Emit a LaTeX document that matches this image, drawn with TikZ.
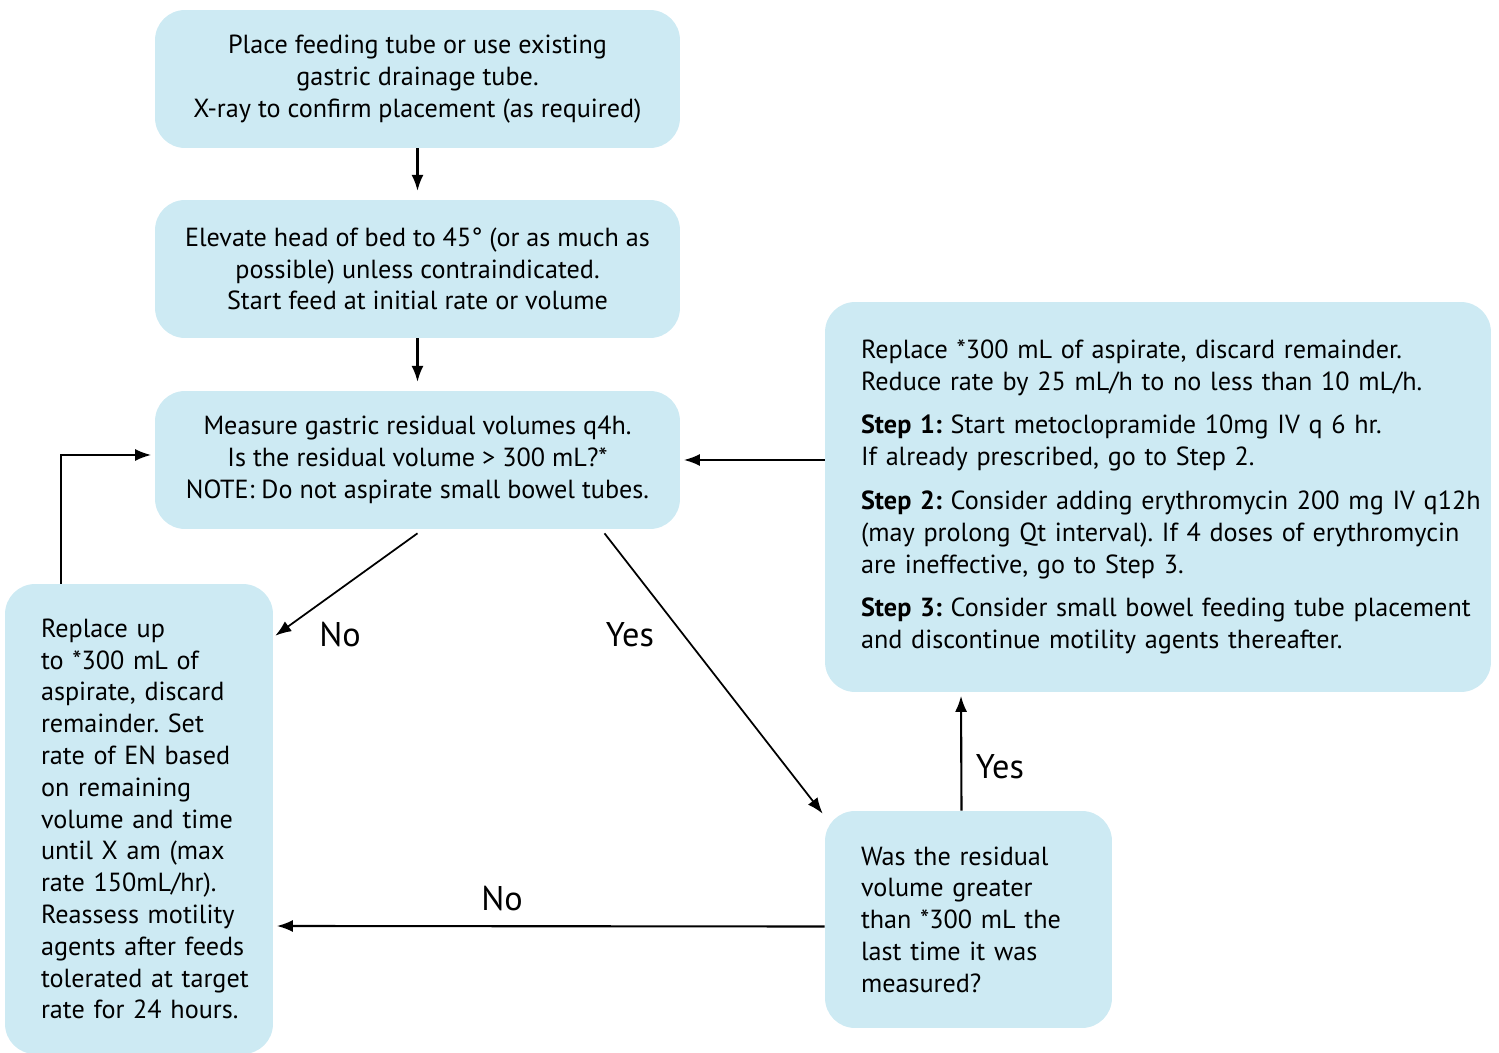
\documentclass[tikz,border=0pt]{standalone}
\usepackage{fontspec}
\setmainfont{PT Sans}
\usepackage{tikz}
\usetikzlibrary{arrows.meta,calc}

\definecolor{boxblue}{RGB}{205,234,243}
\newcommand{\boxfont}{\fontsize{14.9}{18.1}\selectfont\frenchspacing\hyphenpenalty10000\relax}
\newcommand{\padleft}{\leftskip0.52cm\relax}
\tikzset{
  flowbox/.style={fill=boxblue,rounded corners=0.6cm,inner xsep=0.2cm,inner ysep=0pt,
    font=\boxfont},
  midbox/.style={flowbox,align=center,minimum width=10.5cm,minimum height=2.76cm},
  sidebox/.style={flowbox,align=left},
  flowarrow/.style={-{Latex[length=0.32cm,width=0.24cm]},line width=1.2pt},
  answer/.style={font=\fontsize{19.5}{22}\selectfont,inner sep=0pt}
}

\begin{document}
\begin{tikzpicture}[x=0.02cm,y=-0.02cm]
\useasboundingbox (0,0) rectangle (1499,1053);

% main column
\node[midbox] (place) at (417.5,79) {Place feeding tube or use existing\\gastric drainage tube.\\X-ray to confirm placement (as required)};
\node[midbox] (elevate) at (417.5,269) {Elevate head of bed to 45\textdegree\ (or as much as\\possible) unless contraindicated.\\Start feed at initial rate or volume};
\node[midbox] (measure) at (417.5,460) {Measure gastric residual volumes q4h.\\Is the residual volume > 300 mL?*\\NOTE: Do not aspirate small bowel tubes.};

% left branch
\node[sidebox,text width=4.96cm,minimum height=9.4cm] (replace) at (139,819)
  {\padleft Replace up\\to *300 mL of\\aspirate, discard\\remainder. Set\\rate of EN based\\on remaining\\volume and time\\until X am (max\\rate 150mL/hr).\\Reassess motility\\agents after feeds\\tolerated at target\\rate for 24 hours.\par};

% right branch
\node[sidebox,text width=12.92cm,minimum height=7.8cm] (reduce) at (1158,497)
  {\padleft Replace *300 mL of aspirate, discard remainder.\\Reduce rate by 25 mL/h to no less than 10 mL/h.\\[0.24cm]
   \textbf{Step 1:} Start metoclopramide 10mg IV q 6 hr.\\If already prescribed, go to Step 2.\\[0.24cm]
   \textbf{Step 2:} Consider adding erythromycin 200 mg IV q12h\\(may prolong Qt interval). If 4 doses of erythromycin\\are ineffective, go to Step 3.\\[0.24cm]
   \textbf{Step 3:} Consider small bowel feeding tube placement\\and discontinue motility agents thereafter.\par};
\node[sidebox,text width=5.34cm,minimum height=4.34cm] (again) at (968.5,919.5)
  {\padleft Was the residual\\volume greater\\than *300 mL the\\last time it was\\measured?\par};

% connectors
\draw[flowarrow,shorten >=5pt] (place) -- (elevate);
\draw[flowarrow,shorten >=5pt] (elevate) -- (measure);
\draw[flowarrow,shorten >=2pt] (reduce.west |- measure.east) -- (measure.east);
\draw[flowarrow,line width=1pt] ($(measure.south)+(0,4)$) -- ($(replace.north east)+(2,52)$);
\draw[flowarrow,line width=1pt] ($(measure.south)+(187,4)$) -- ($(again.north west)+(-2,3)$);
\draw[flowarrow,shorten >=2pt] ($(again.north)+(-7,0)$) -- ($(reduce.south)+(-197,0)$);
\draw[flowarrow,shorten >=2pt] ($(again.west)+(0,7)$) -- ($(replace.east)+(0,107)$);
\draw[flowarrow,shorten >=2pt] ($(replace.north west)+(56,0)$) |- ($(measure.west)+(0,-5)$);

% answers
\node[answer] (no1) at (340,635) {No};
\node[answer] (yes1) at (630,635) {Yes};
\node[answer] (yes2) at (1000,767) {Yes};
\node[answer] (no2) at (502,899) {No};
\end{tikzpicture}
\end{document}
